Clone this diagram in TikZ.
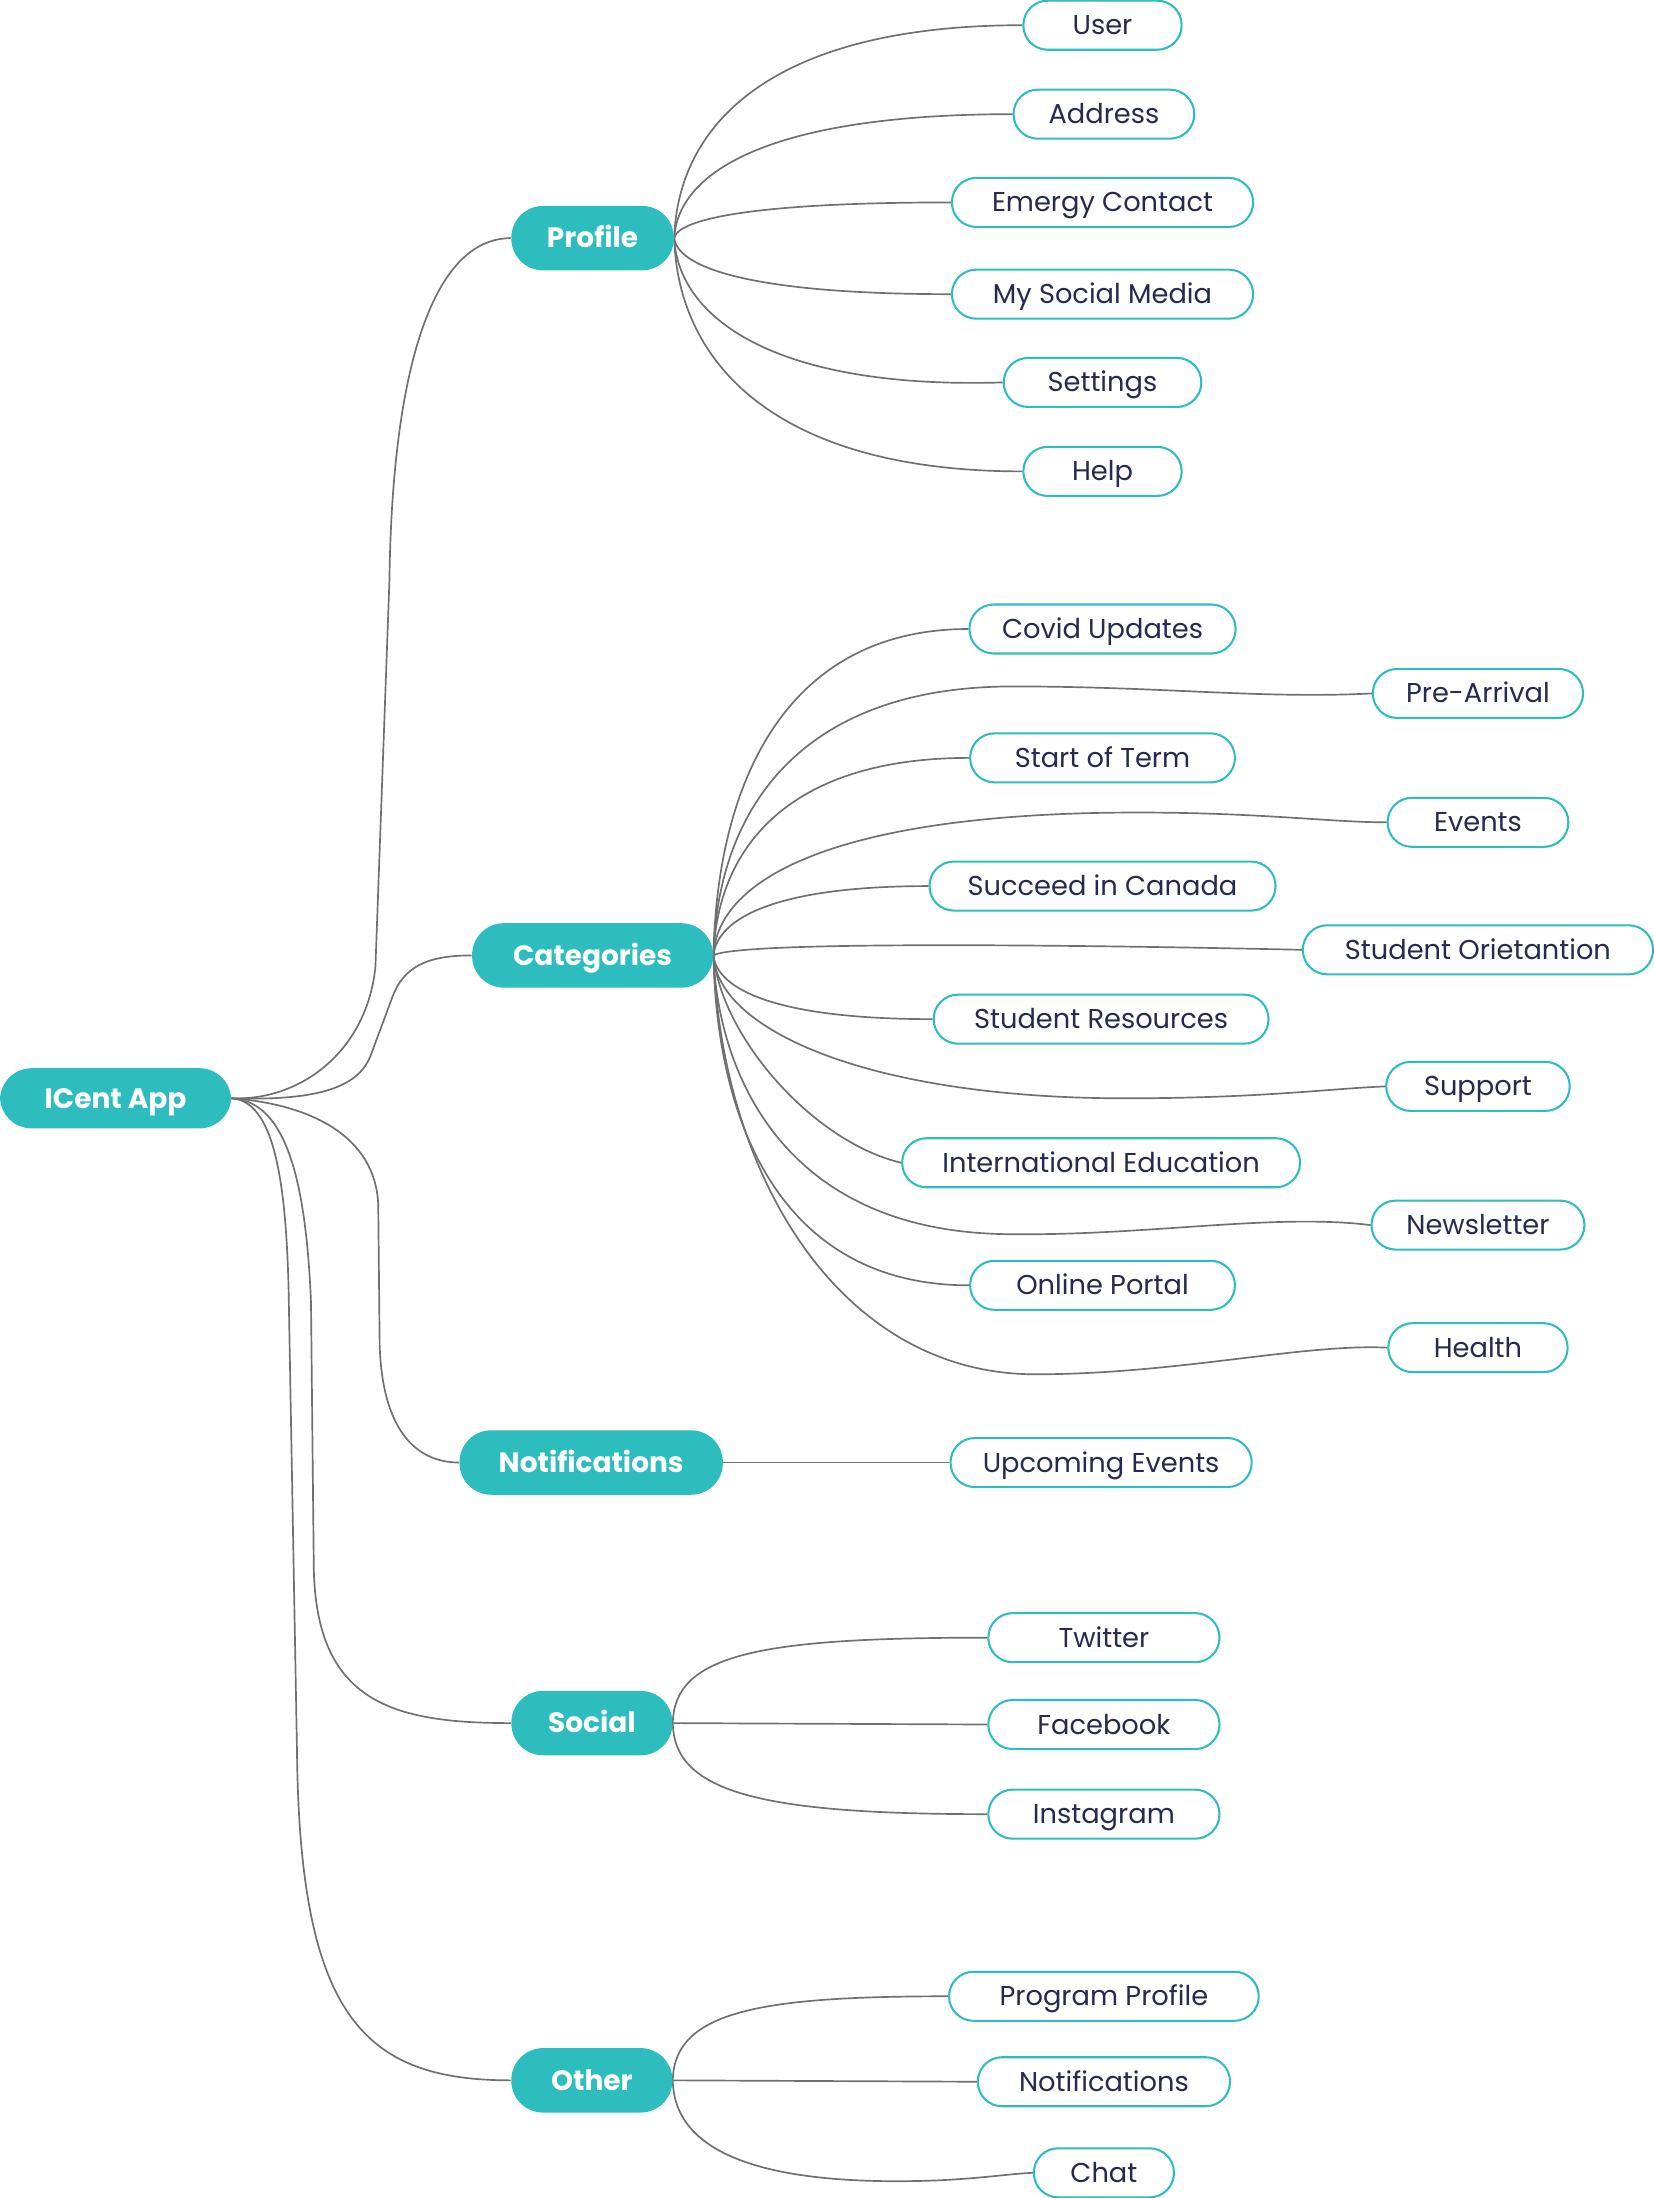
\documentclass[tikz,border=0pt]{standalone}
\usepackage{fontspec}
\usetikzlibrary{backgrounds}
\newfontfamily\leaffont{Poppins}
\IfFontExistsTF{Poppins Bold}{\newfontfamily\mainfontb{Poppins Bold}}{\newfontfamily\mainfontb{Poppins SemiBold}}
\definecolor{teal0}{HTML}{2EBDBE}
\definecolor{navy0}{HTML}{262A4D}
\definecolor{gray0}{HTML}{707070}
\begin{document}
\begin{tikzpicture}[x=0.75pt,y=-0.75pt,
  mainn/.style={fill=teal0, draw=none, text=white, font=\mainfontb\fontsize{15}{19}\selectfont, rounded corners=17pt, minimum height=46*0.75pt, inner sep=0pt, text height=11.5pt, text depth=1pt, minimum width=#1*0.75pt},
  leafn/.style={draw=teal0, line width=1.1pt, fill=white, text=navy0, font=\leaffont\fontsize{14.6}{17}\selectfont, rounded corners=13pt, minimum height=35*0.75pt, inner sep=0pt, text height=11pt, text depth=0.8pt, minimum width=#1*0.75pt},
  conn/.style={draw=gray0, line width=0.9pt}]
\useasboundingbox (0,0) rectangle (1180,1569);
% main nodes
\node[mainn=165, minimum height=43*0.75pt] (root) at (82.5,784) {ICent App};
\node[mainn=116] (profile) at (423,170) {Profile};
\node[mainn=172] (cat) at (423,682) {Categories};
\node[mainn=188] (notif) at (422,1044) {Notifications};
\node[mainn=115] (social) at (422.5,1230) {Social};
\node[mainn=115] (other) at (422.5,1485) {Other};
% profile leaves
\node[leafn=113] (user) at (787,18) {User};
\node[leafn=129] (address) at (788,81.5) {Address};
\node[leafn=215] (emergy) at (787,144.5) {Emergy Contact};
\node[leafn=215] (mysocial) at (787,210) {My Social Media};
\node[leafn=141] (settings) at (787,273) {Settings};
\node[leafn=113] (help) at (787,336.5) {Help};
% categories leaves
\node[leafn=190] (covid) at (787,449) {Covid Updates};
\node[leafn=150] (prearr) at (1055,495) {Pre-Arrival};
\node[leafn=189] (start) at (787,541) {Start of Term};
\node[leafn=129] (events) at (1055,587) {Events};
\node[leafn=247] (succeed) at (787,632.5) {Succeed in Canada};
\node[leafn=250] (orient) at (1055,678) {Student Orietantion};
\node[leafn=239] (resources) at (786,727.5) {Student Resources};
\node[leafn=131] (support) at (1055,775.5) {Support};
\node[leafn=284] (inted) at (786,830) {International Education};
\node[leafn=152] (news) at (1055,874.5) {Newsletter};
\node[leafn=189] (portal) at (787,917.5) {Online Portal};
\node[leafn=128] (health) at (1055,962) {Health};
% notifications leaf
\node[leafn=215] (upcoming) at (786,1044) {Upcoming Events};
% social leaves
\node[leafn=165] (twitter) at (788,1169) {Twitter};
\node[leafn=165] (facebook) at (788,1231) {Facebook};
\node[leafn=165] (instagram) at (788,1295) {Instagram};
% other leaves
\node[leafn=221] (program) at (788,1425) {Program Profile};
\node[leafn=180] (notiftwo) at (788,1486) {Notifications};
\node[leafn=100] (chat) at (788,1551) {Chat};
\begin{pgfonlayer}{background}
% root connectors
\draw[conn] (root.east) .. controls (215,786) and (262,750) .. (268,690) -- (278,414) .. controls (280,260) and (310,170) .. (profile.west);
\draw[conn] (root.east) .. controls (230,786) and (255,775) .. (264,755) -- (280,712) .. controls (288,690) and (305,682) .. (cat.west);
\draw[conn] (root.east) .. controls (220,788) and (268,810) .. (270,860) -- (271,960) .. controls (273,1025) and (300,1044) .. (notif.west);
\draw[conn] (root.east) .. controls (200,786) and (218,830) .. (222,930) -- (224,1120) .. controls (226,1215) and (280,1230) .. (social.west);
\draw[conn] (root.east) .. controls (195,786) and (204,840) .. (206,920) -- (212,1250) .. controls (214,1440) and (260,1485) .. (other.west);
% profile connectors
\draw[conn] (profile.east) .. controls (484,85) and (556,18) .. (user.west);
\draw[conn] (profile.east) .. controls (484,121) and (553,81.5) .. (address.west);
\draw[conn] (profile.east) .. controls (484,156) and (540,144.5) .. (emergy.west);
\draw[conn] (profile.east) .. controls (484,192) and (540,210) .. (mysocial.west);
\draw[conn] (profile.east) .. controls (484,226) and (551,278) .. (settings.west);
\draw[conn] (profile.east) .. controls (484,261) and (556,336.5) .. (help.west);
% categories connectors
\draw[conn] (cat.east) .. controls (512,554) and (564,449) .. (covid.west);
\draw[conn] (cat.east) .. controls (512,576) and (573,490) .. (723,490) .. controls (830,490) and (900,499) .. (prearr.west);
\draw[conn] (cat.east) .. controls (512,604) and (564,541) .. (start.west);
\draw[conn] (cat.east) .. controls (512,626) and (600,580) .. (812,580) .. controls (900,580) and (950,587) .. (events.west);
\draw[conn] (cat.east) .. controls (512,655) and (555,632.5) .. (succeed.west);
\draw[conn] (cat.east) .. controls (525,672) and (750,674) .. (orient.west);
\draw[conn] (cat.east) .. controls (512,707) and (556,727.5) .. (resources.west);
\draw[conn] (cat.east) .. controls (512,735) and (620,784) .. (803,784) .. controls (900,784) and (950,777) .. (support.west);
\draw[conn] (cat.east) .. controls (515,740) and (580,815) .. (inted.west);
\draw[conn] (cat.east) .. controls (512,760) and (555,881) .. (723,881) .. controls (820,882) and (910,866) .. (news.west);
\draw[conn] (cat.east) .. controls (512,812) and (564,917.5) .. (portal.west);
\draw[conn] (cat.east) .. controls (515,840) and (600,981) .. (739,981) .. controls (840,981) and (930,959) .. (health.west);
% notifications connector
\draw[conn] (notif.east) -- (upcoming.west);
% social connectors
\draw[conn] (social.east) .. controls (481,1180) and (545,1169) .. (twitter.west);
\draw[conn] (social.east) -- (facebook.west);
\draw[conn] (social.east) .. controls (481,1280) and (545,1295) .. (instagram.west);
% other connectors
\draw[conn] (other.east) .. controls (481,1435) and (545,1425) .. (program.west);
\draw[conn] (other.east) -- (notiftwo.west);
\draw[conn] (other.east) .. controls (481,1535) and (540,1557) .. (640,1557) .. controls (690,1557) and (715,1552) .. (chat.west);
\end{pgfonlayer}
\end{tikzpicture}
\end{document}
